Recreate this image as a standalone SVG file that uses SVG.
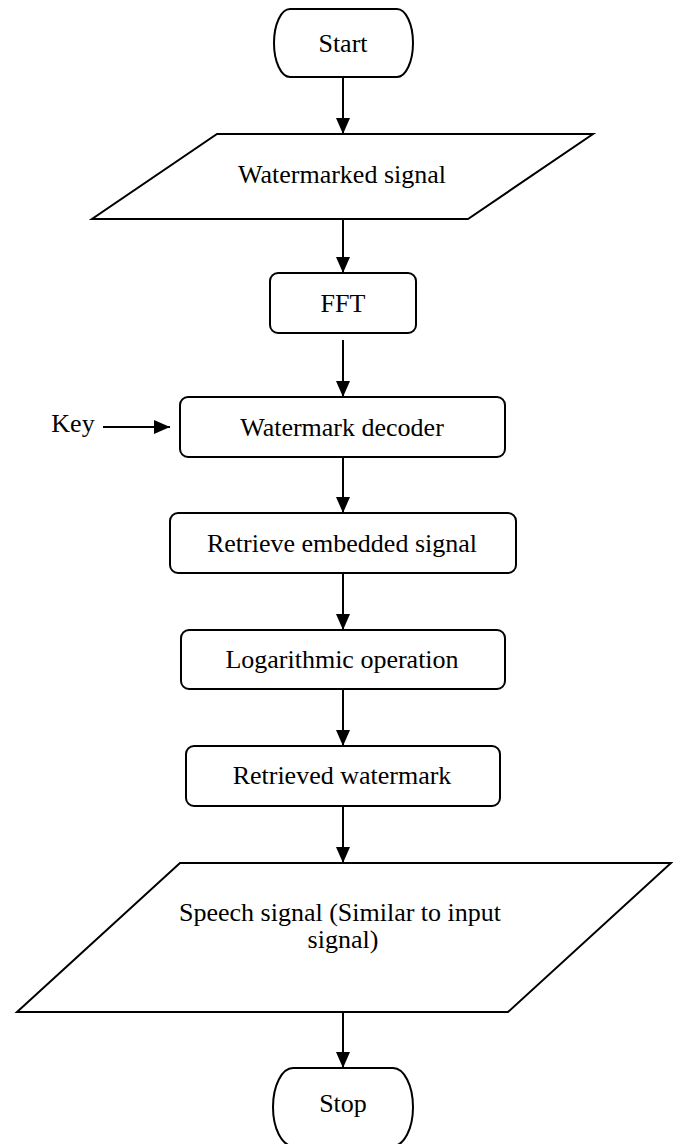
<svg xmlns="http://www.w3.org/2000/svg" width="673" height="1144" viewBox="0 0 673 1144">
<style>
.shape{fill:#fff;stroke:#000;stroke-width:2}
.lbl{font-family:"Liberation Serif","Times New Roman",serif;font-size:26px;fill:#000;text-anchor:middle}
.conn{stroke:#000;stroke-width:2;fill:none;marker-end:url(#arr)}
</style>
<defs>
<marker id="arr" markerUnits="userSpaceOnUse" markerWidth="16" markerHeight="14" refX="16" refY="7" orient="auto">
<path d="M0,0 L16,7 L0,14 Z" fill="#000"/>
</marker>
</defs>
<rect width="673" height="1144" fill="#fff"/>
<g id="connectors">
<line class="conn" x1="343" y1="77" x2="343" y2="134"/>
<line class="conn" x1="343" y1="219" x2="343" y2="273"/>
<line class="conn" x1="343" y1="340" x2="343" y2="397"/>
<line class="conn" x1="103" y1="427" x2="170" y2="427"/>
<line class="conn" x1="343" y1="457" x2="343" y2="513"/>
<line class="conn" x1="343" y1="573" x2="343" y2="630"/>
<line class="conn" x1="343" y1="689" x2="343" y2="746"/>
<line class="conn" x1="343" y1="806" x2="343" y2="863"/>
<line class="conn" x1="343" y1="1012" x2="343" y2="1068"/>
</g>
<g id="start">
<path class="shape" d="M290,9 H397 A16,34 0 0 1 397,77 H290 A16,34 0 0 1 290,9 Z"/>
<text class="lbl" x="343" y="52">Start</text>
</g>
<g id="watermarked-signal">
<polygon class="shape" points="217,134 593,134 468,219 92,219"/>
<text class="lbl" x="342" y="183">Watermarked signal</text>
</g>
<g id="fft">
<rect class="shape" x="270" y="273" width="146" height="60" rx="8"/>
<text class="lbl" x="343" y="312">FFT</text>
</g>
<g id="key">
<text class="lbl" x="73" y="432">Key</text>
</g>
<g id="watermark-decoder">
<rect class="shape" x="180" y="397" width="325" height="60" rx="8"/>
<text class="lbl" x="342" y="436">Watermark decoder</text>
</g>
<g id="retrieve-embedded">
<rect class="shape" x="170" y="513" width="346" height="60" rx="8"/>
<text class="lbl" x="342" y="552">Retrieve embedded signal</text>
</g>
<g id="logarithmic">
<rect class="shape" x="181" y="630" width="324" height="59" rx="8"/>
<text class="lbl" x="342" y="668">Logarithmic operation</text>
</g>
<g id="retrieved-watermark">
<rect class="shape" x="186" y="746" width="314" height="60" rx="8"/>
<text class="lbl" x="342" y="784">Retrieved watermark</text>
</g>
<g id="speech-signal">
<polygon class="shape" points="180,863 671,863 508,1012 17,1012"/>
<text class="lbl" x="340" y="921">Speech signal (Similar to input</text>
<text class="lbl" x="343" y="948">signal)</text>
</g>
<g id="stop">
<path class="shape" d="M293,1068 H393 A20,39 0 0 1 393,1146 H293 A20,39 0 0 1 293,1068 Z"/>
<text class="lbl" x="343" y="1112">Stop</text>
</g>
</svg>
